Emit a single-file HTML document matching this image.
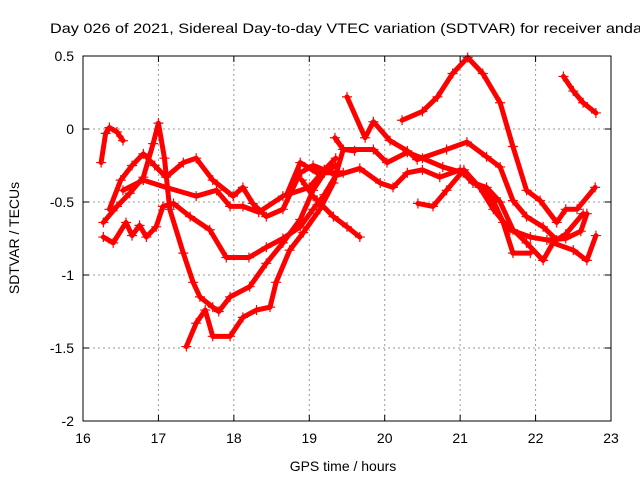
<!DOCTYPE html>
<html><head><meta charset="utf-8"><style>
body{margin:0;background:#fff}
svg{font-family:"Liberation Sans",sans-serif;font-size:14px}
</style></head><body>
<svg id="chart" width="640" height="480" xmlns="http://www.w3.org/2000/svg">
<rect width="640" height="480" fill="#fff"/>
<text x="50" y="33" textLength="592" lengthAdjust="spacingAndGlyphs">Day 026 of 2021, Sidereal Day-to-day VTEC variation (SDTVAR) for receiver anda</text>
<g id="grid"></g><g id="series"></g><g id="axes"></g>
<text x="343" y="471" text-anchor="middle">GPS time / hours</text>
<text transform="translate(19,238) rotate(-90)" text-anchor="middle">SDTVAR / TECUs</text>
</svg>
<script>
const xTicks=[16,17,18,19,20,21,22,23];
const yTicks=[0.5,0,-0.5,-1,-1.5,-2];
const sA=[[16.27,-0.64],[16.45,-0.53],[16.62,-0.44],[16.8,-0.33],[16.93,-0.1],[17.0,0.04],[17.08,-0.2],[17.15,-0.55],[17.33,-0.85],[17.46,-1.05],[17.55,-1.15],[17.72,-1.22],[17.8,-1.25],[17.95,-1.15],[18.21,-1.08],[18.43,-0.92],[18.65,-0.78],[18.88,-0.62],[19.05,-0.42],[19.2,-0.3],[19.35,-0.25]];
const sB=[[17.37,-1.49],[17.5,-1.33],[17.62,-1.24],[17.72,-1.42],[17.95,-1.42],[18.12,-1.29],[18.3,-1.24],[18.48,-1.22],[18.56,-1.05],[18.74,-0.83],[18.92,-0.71],[19.14,-0.55],[19.32,-0.37],[19.45,-0.14],[19.85,-0.14],[20.03,-0.23],[20.3,-0.16],[20.5,-0.2],[20.77,-0.26],[21.04,-0.3],[21.26,-0.4],[21.42,-0.47],[21.57,-0.64],[21.7,-0.85],[21.93,-0.85]];
const sC=[[16.27,-0.74],[16.4,-0.78],[16.57,-0.64],[16.65,-0.73],[16.75,-0.66],[16.84,-0.74],[16.97,-0.67],[17.06,-0.53],[17.2,-0.51],[17.42,-0.6],[17.68,-0.69],[17.9,-0.88],[18.2,-0.88],[18.43,-0.81],[18.65,-0.75],[18.88,-0.67],[19.05,-0.55],[19.2,-0.45],[19.35,-0.32],[19.67,-0.27],[19.94,-0.37],[20.11,-0.4],[20.3,-0.3],[20.5,-0.28],[20.73,-0.33],[21.0,-0.28],[21.17,-0.37],[21.35,-0.4],[21.53,-0.5],[21.7,-0.69],[21.88,-0.78],[22.1,-0.9],[22.23,-0.78],[22.5,-0.83],[22.68,-0.9],[22.8,-0.73]];
const sD=[[16.24,-0.23],[16.3,-0.03],[16.35,0.01],[16.45,-0.02],[16.53,-0.08]];
const sE=[[16.35,-0.55],[16.5,-0.35],[16.65,-0.25],[16.8,-0.17],[16.95,-0.25],[17.1,-0.33],[17.33,-0.23],[17.5,-0.2],[17.72,-0.35],[17.99,-0.46],[18.12,-0.4],[18.25,-0.51],[18.43,-0.6],[18.65,-0.55],[18.88,-0.3],[19.05,-0.25],[19.2,-0.28]];
const sF=[[18.9,-0.35],[19.05,-0.46],[19.32,-0.6],[19.5,-0.67],[19.67,-0.74]];
const sG=[[16.53,-0.42],[16.8,-0.35],[17.1,-0.4],[17.5,-0.46],[17.77,-0.42],[17.95,-0.53],[18.12,-0.53],[18.33,-0.57],[18.65,-0.46],[19.0,-0.4],[19.2,-0.28],[19.35,-0.2]];
const sH=[[19.5,0.22],[19.74,-0.06],[19.85,0.05],[20.07,-0.08],[20.3,-0.15],[20.43,-0.21],[20.82,-0.14],[21.09,-0.09],[21.35,-0.19],[21.53,-0.26],[21.7,-0.49],[21.88,-0.6],[22.1,-0.67],[22.28,-0.76],[22.4,-0.72],[22.63,-0.58]];
const sI=[[20.23,0.06],[20.5,0.12],[20.7,0.22],[20.9,0.38],[21.1,0.49],[21.3,0.38],[21.53,0.18],[21.7,-0.12],[21.88,-0.42],[22.06,-0.49],[22.28,-0.64],[22.4,-0.55],[22.55,-0.55],[22.79,-0.4]];
const sJ=[[20.44,-0.51],[20.64,-0.53],[20.82,-0.42],[21.05,-0.28],[21.26,-0.4],[21.44,-0.55],[21.66,-0.69],[21.93,-0.74],[22.15,-0.76],[22.4,-0.75],[22.6,-0.7],[22.68,-0.58]];
const sK=[[22.37,0.36],[22.5,0.26],[22.63,0.18],[22.8,0.11]];
const sL=[[18.7,-0.45],[18.88,-0.23],[19.1,-0.3],[19.45,-0.3]];
const sM=[[19.34,-0.06],[19.45,-0.14],[19.6,-0.15]];
const allSeries=[sA,sB,sC,sD,sE,sF,sG,sH,sI,sJ,sK,sL,sM];
const X0=83,X1=611,Y0=421,Y1=56;
const xs=v=>X0+(v-16)/(23-16)*(X1-X0);
const ys=v=>Y0+(v+2)/(0.5+2)*(Y1-Y0);
const NS="http://www.w3.org/2000/svg";
function mk(t,a,p){const e=document.createElementNS(NS,t);for(const k in a)e.setAttribute(k,a[k]);p.appendChild(e);return e;}
const grid=document.getElementById('grid'),axes=document.getElementById('axes'),ser=document.getElementById('series');
xTicks.forEach(t=>{const x=xs(t);
 if(t>16&&t<23){const l=mk('line',{x1:x,y1:Y0,x2:x,y2:Y1,stroke:'#999','stroke-dasharray':'2,3'},grid);}
 mk('line',{x1:x,y1:Y0,x2:x,y2:Y0-6,stroke:'#000'},axes);mk('line',{x1:x,y1:Y1,x2:x,y2:Y1+6,stroke:'#000'},axes);
 const tx=mk('text',{x:x,y:Y0+22,'text-anchor':'middle'},axes);tx.textContent=t;
 });
yTicks.forEach(t=>{const y=ys(t);
 if(t<0.5&&t>-2){const l=mk('line',{x1:X0,y1:y,x2:X1,y2:y,stroke:'#999','stroke-dasharray':'2,3'},grid);}
 mk('line',{x1:X0,y1:y,x2:X0+6,y2:y,stroke:'#000'},axes);mk('line',{x1:X1,y1:y,x2:X1-6,y2:y,stroke:'#000'},axes);
 const tx=mk('text',{x:X0-9,y:y+5,'text-anchor':'end'},axes);tx.textContent=t;
 });
const fr=mk('rect',{x:X0,y:Y1,width:X1-X0,height:Y0-Y1,fill:'none',stroke:'#000'},axes);

allSeries.forEach((s,i)=>{
 const g=mk('g',{},ser);
 
 
 mk('polyline',{points:s.map(p=>xs(p[0])+','+ys(p[1])).join(' '),fill:'none',stroke:'#f00','stroke-width':5,'stroke-linejoin':'round','stroke-linecap':'round'},g);
 s.forEach(p=>{const x=xs(p[0]),y=ys(p[1]);
  mk('path',{d:`M${x-5},${y}h10M${x},${y-5}v10`,stroke:'#f00','stroke-width':1.2},g);});
});
</script>
</body></html>
